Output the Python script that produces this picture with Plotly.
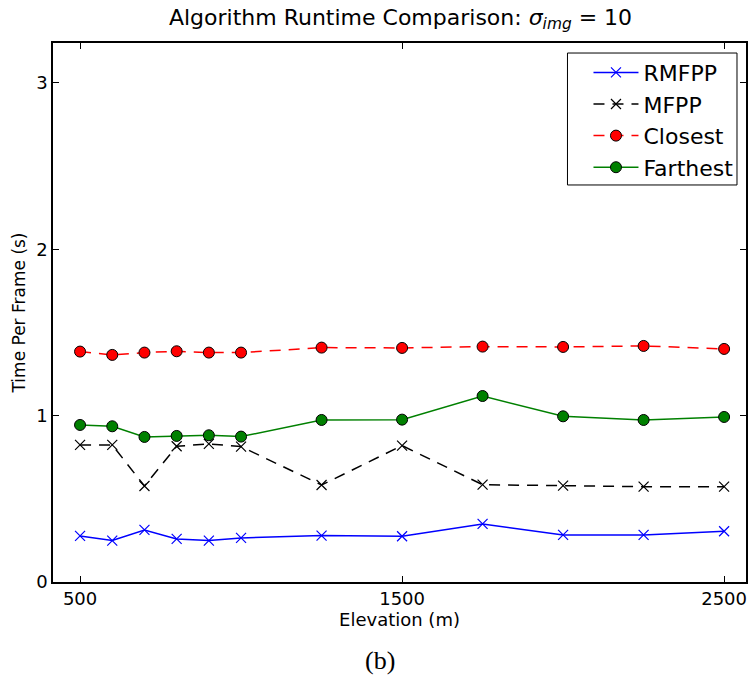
import plotly.graph_objects as go

# Elevation sample points (m)
elevation = [500, 600, 700, 800, 900, 1000, 1250, 1500, 1750, 2000, 2250, 2500]

# Time per frame (s) for each algorithm
rmfpp = [0.277, 0.249, 0.313, 0.259, 0.249, 0.265, 0.279, 0.275, 0.349, 0.283, 0.283, 0.305]
mfpp = [0.824, 0.824, 0.577, 0.816, 0.830, 0.814, 0.583, 0.820, 0.585, 0.579, 0.573, 0.573]
closest = [1.385, 1.365, 1.379, 1.387, 1.379, 1.379, 1.409, 1.407, 1.415, 1.413, 1.419, 1.401]
farthest = [0.944, 0.936, 0.872, 0.878, 0.882, 0.874, 0.974, 0.976, 1.118, 0.996, 0.974, 0.992]

x_ticks = [500, 1500, 2500]
y_ticks = [0, 1, 2, 3]

FONT = "DejaVu Sans"

fig = go.Figure()

fig.add_trace(go.Scatter(
    x=elevation, y=rmfpp, name="RMFPP", mode="lines+markers",
    line=dict(color="#0000ff", width=1.5),
    marker=dict(symbol="x-thin", size=10, color="#0000ff",
                line=dict(color="#0000ff", width=1.2)),
))
fig.add_trace(go.Scatter(
    x=elevation, y=mfpp, name="MFPP", mode="lines+markers",
    line=dict(color="#000000", width=1.5, dash="11px,8px"),
    marker=dict(symbol="x-thin", size=10, color="#000000",
                line=dict(color="#000000", width=1.2)),
))
fig.add_trace(go.Scatter(
    x=elevation, y=closest, name="Closest", mode="lines+markers",
    line=dict(color="#ff0000", width=1.5, dash="11px,8px"),
    marker=dict(symbol="circle", size=11, color="#ff0000",
                line=dict(color="#000000", width=1)),
))
fig.add_trace(go.Scatter(
    x=elevation, y=farthest, name="Farthest", mode="lines+markers",
    line=dict(color="#008000", width=1.5),
    marker=dict(symbol="circle", size=11, color="#008000",
                line=dict(color="#000000", width=1)),
))

axis_common = dict(
    showgrid=False, zeroline=False, showline=True, linecolor="#000000",
    linewidth=1.5, mirror="ticks", ticks="inside", ticklen=6,
    tickcolor="#000000", tickwidth=1,
    tickfont=dict(family=FONT, size=18, color="#000000"),
)

fig.update_layout(
    width=754, height=675,
    margin=dict(l=53, r=6, t=43, b=93),
    paper_bgcolor="#ffffff", plot_bgcolor="#ffffff",
    title=dict(
        text="Algorithm Runtime Comparison: <i>σ<sub>img</sub></i> = 10",
        x=(53 + 748) / 2 / 754, xanchor="center", y=0.975, yanchor="middle",
        font=dict(family=FONT, size=22, color="#000000"),
    ),
    xaxis=dict(
        range=[416, 2568], tickvals=x_ticks,
        title=dict(text="Elevation (m)", font=dict(family=FONT, size=18, color="#000000"), standoff=2),
        **axis_common,
    ),
    yaxis=dict(
        range=[0, 3.24], tickvals=y_ticks,
        title=dict(text="Time Per Frame (s)", font=dict(family=FONT, size=17, color="#000000"), standoff=6),
        **axis_common,
    ),
    legend=dict(
        x=0.7727, y=0.984, xanchor="left", yanchor="top",
        bgcolor="rgba(0,0,0,0)", borderwidth=0,
        font=dict(family=FONT, size=22, color="#000000"),
        tracegroupgap=0, itemwidth=45,
    ),
    showlegend=True,
)

# Framed box behind the legend entries
fig.add_shape(
    type="rect", xref="paper", yref="paper",
    x0=0.7424, x1=0.987, y0=0.7366, y1=0.9814,
    line=dict(color="#000000", width=1), fillcolor="#ffffff", layer="above",
)

fig.add_annotation(
    text="(b)", xref="paper", yref="paper", x=(381 - 53) / 695, y=-(660 - 582) / 539,
    xanchor="center", yanchor="middle", showarrow=False,
    font=dict(family="Liberation Serif, Times New Roman, serif", size=26, color="#000000"),
)

fig.write_html("out.html")
